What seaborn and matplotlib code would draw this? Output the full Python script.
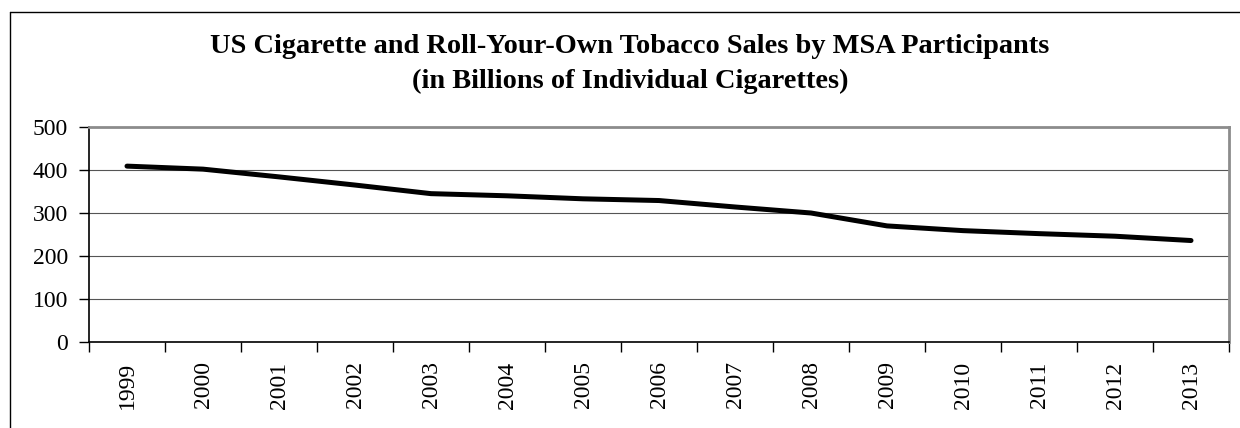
#!/usr/bin/env python

import pandas as pd
import seaborn as sns
import matplotlib.pyplot as plt
from matplotlib.lines import Line2D

# Data
years = ['1999', '2000', '2001', '2002', '2003', '2004', '2005', '2006',
         '2007', '2008', '2009', '2010', '2011', '2012', '2013']
sales = [409, 402, 384, 365, 345, 340, 333, 329, 314, 300, 270, 259, 252, 246, 236]

df = pd.DataFrame({'pos': range(len(years)), 'year': years, 'sales': sales})

sns.set_style('white')
plt.rcParams['font.family'] = ['Liberation Serif', 'DejaVu Serif']
plt.rcParams['text.color'] = 'black'

fig = plt.figure(figsize=(12.4, 4.28), dpi=100)
W, H = 1240, 428
ax = fig.add_axes([89 / W, 1 - 342 / H, (1229 - 89) / W, (342 - 127) / H])

sns.lineplot(data=df, x='pos', y='sales', color='black', linewidth=3.6, ax=ax,
             solid_capstyle='round')

ax.set_xlim(-0.5, len(years) - 0.5)
ax.set_ylim(0, 500)
ax.set_yticks(range(0, 501, 100))
ax.tick_params(axis='y', labelsize=17, length=7, width=1, direction='out',
               left=True, pad=8, colors='black')

# boundaries as major ticks, labels at category centres as minor ticks
ax.set_xticks([i - 0.5 for i in range(len(years) + 1)])
ax.set_xticklabels([])
ax.set_xticks(df['pos'], minor=True)
ax.set_xticklabels(years, minor=True, rotation=90)
ax.tick_params(axis='x', which='major', length=7, width=1, direction='out',
               bottom=True, colors='black')
ax.tick_params(axis='x', which='minor', length=0, labelsize=17, pad=14,
               colors='black')

ax.grid(axis='y', color='#555555', linewidth=0.8)
ax.set_axisbelow(True)
ax.set_xlabel('')
ax.set_ylabel('')

for side in ['left', 'bottom']:
    ax.spines[side].set_color('black')
    ax.spines[side].set_linewidth(1.2)
for side in ['top', 'right']:
    ax.spines[side].set_color('#8c8c8c')
    ax.spines[side].set_linewidth(2)

fig.text(630 / W, 1 - 53 / H, 'US Cigarette and Roll-Your-Own Tobacco Sales by MSA Participants',
         ha='center', va='baseline', fontsize=20.4, fontweight='bold')
fig.text(630 / W, 1 - 88 / H, '(in Billions of Individual Cigarettes)',
         ha='center', va='baseline', fontsize=20.4, fontweight='bold')

# outer chart frame (top and left edges visible)
fig.add_artist(Line2D([9.5 / W, 9.5 / W], [0, 1 - 12 / H], color='black', linewidth=1))
fig.add_artist(Line2D([9.5 / W, 1], [1 - 12 / H, 1 - 12 / H], color='black', linewidth=1))

fig.savefig('out.png', dpi=100)
